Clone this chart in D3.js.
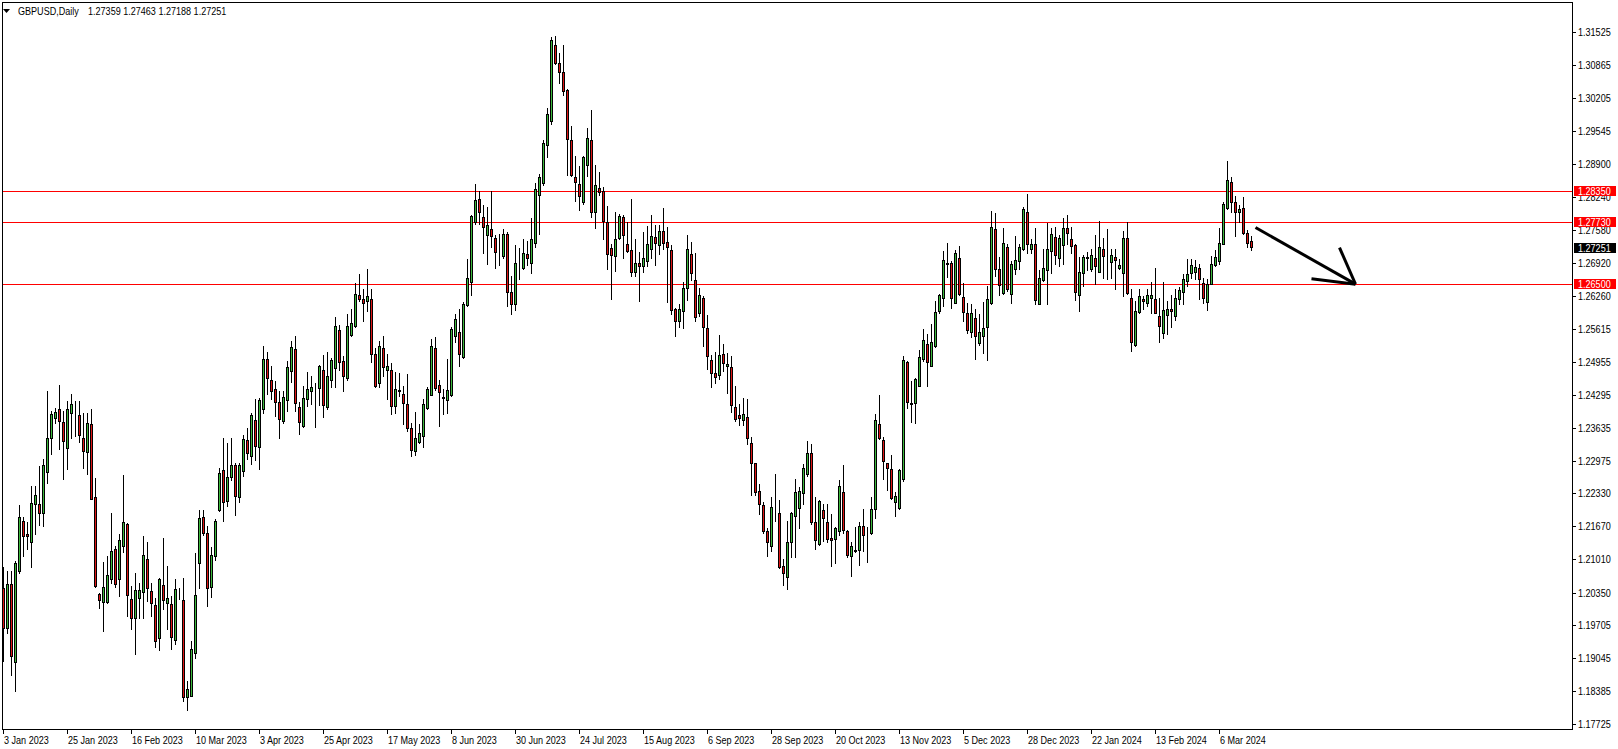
<!DOCTYPE html>
<html><head><meta charset="utf-8">
<script src="https://cdn.jsdelivr.net/npm/d3@7"></script>
<style>html,body{margin:0;padding:0;background:#fff;overflow:hidden}</style>
</head><body><svg id="c" width="1618" height="749"></svg>
<script>
// ---------------- DATA ----------------
const symbolTitle = "GBPUSD,Daily";
const lastQuote = ["1.27359", "1.27463", "1.27188", "1.27251"];
const open = [
1.2045,1.1965,1.2053,1.1897,1.2078,1.2177,1.2151,1.2135,1.2212,1.2211,
1.2193,1.2276,1.2344,1.2383,1.2402,1.2375,1.2324,1.2394,1.2394,1.2389,
1.2344,1.2316,1.2371,1.2225,1.2032,1.2017,1.2016,1.2063,1.2121,1.2063,
1.2128,1.2171,1.2023,1.1985,1.2025,1.2037,1.2102,1.2038,1.2010,1.1945,
1.2050,1.2014,1.2012,1.1941,1.2025,1.2020,1.1826,1.1829,1.1915,1.2093,
1.2185,1.2153,1.2046,1.2108,1.2200,1.2280,1.2218,1.2266,1.2289,1.2225,
1.2278,1.2339,1.2308,1.2379,1.2326,1.2402,1.2500,1.2458,1.2441,1.2416,
1.2377,1.2419,1.2476,1.2520,1.2406,1.2367,1.2422,1.2437,1.2442,1.2442,
1.2479,1.2406,1.2459,1.2482,1.2559,1.2496,1.2463,1.2549,1.2566,1.2629,
1.2621,1.2617,1.2621,1.2510,1.2452,1.2522,1.2479,1.2479,1.2407,1.2439,
1.2431,1.2412,1.2364,1.2318,1.2336,1.2348,1.2404,1.2429,1.2522,1.2449,
1.2426,1.2419,1.2429,1.2547,1.2554,1.2505,1.2608,1.2655,1.2774,1.2819,
1.2783,1.2749,1.2761,1.2742,1.2711,1.2706,1.2750,1.2635,1.2611,1.2691,
1.2682,1.2711,1.2693,1.2733,1.2828,1.2851,1.2928,1.2976,1.3127,1.3092,
1.3074,1.3037,1.2937,1.2863,1.2849,1.2814,1.2888,1.2937,1.2793,1.2841,
1.2836,1.2773,1.2723,1.2707,1.2743,1.2783,1.2731,1.2718,1.2675,1.2693,
1.2687,1.2697,1.2721,1.2745,1.2728,1.2756,1.2735,1.2718,1.2601,1.2576,
1.2596,1.2643,1.2711,1.2659,1.2593,1.2623,1.2562,1.2499,1.2472,1.2469,
1.2510,1.2486,1.2484,1.2406,1.2389,1.2379,1.2386,1.2333,1.2293,1.2237,
1.2209,1.2157,1.2127,1.2201,1.2193,1.2087,1.2067,1.2135,1.2187,1.2203,
1.2233,1.2271,1.2313,1.2175,1.2132,1.2200,1.2175,1.2144,1.2142,1.2158,
1.2235,1.2157,1.2107,1.2117,1.2120,1.2167,1.2152,1.2154,1.2201,1.2371,
1.2340,1.2293,1.2282,1.2216,1.2203,1.2261,1.2494,1.2414,1.2414,1.2447,
1.2500,1.2530,1.2487,1.2527,1.2597,1.2623,1.2691,1.2693,1.2613,1.2702,
1.2625,1.2593,1.2554,1.2582,1.2532,1.2547,1.2564,1.2612,1.2761,1.2680,
1.2633,1.2725,1.2630,1.2681,1.2697,1.2721,1.2793,1.2721,1.2730,1.2611,
1.2658,1.2679,1.2716,1.2745,1.2703,1.2728,1.2762,1.2740,1.2728,1.2629,
1.2673,1.2703,1.2681,1.2703,1.2675,1.2720,1.2701,1.2695,1.2705,1.2682,
1.2673,1.2743,1.2623,1.2528,1.2595,1.2621,1.2613,1.2622,1.2620,1.2586,
1.2552,1.2589,1.2600,1.2587,1.2621,1.2635,1.2657,1.2673,1.2675,1.2683,
1.2653,1.2615,1.2651,1.2689,1.2696,1.2731,1.2801,1.2853,1.2813,1.2794,
1.2801,1.2753,1.27359];
const high = [
1.2085,1.2078,1.2078,1.2098,1.2209,1.2185,1.2175,1.2248,1.2248,1.2288,
1.2301,1.2436,1.2397,1.2404,1.2449,1.2397,1.2417,1.2431,1.2417,1.2417,
1.2394,1.2394,1.2401,1.2264,1.2035,1.2096,1.2108,1.2193,1.2128,1.2151,
1.2269,1.2173,1.2048,1.2074,1.2055,1.2148,1.2135,1.2055,1.2025,1.2065,
1.2143,1.2088,1.2028,1.2062,1.2045,1.2065,1.1858,1.1939,1.2114,1.2200,
1.2200,1.2168,1.2126,1.2181,1.2284,1.2343,1.2334,1.2343,1.2294,1.2293,
1.2349,1.2363,1.2394,1.2422,1.2424,1.2526,1.2515,1.2487,1.2457,1.2437,
1.2437,1.2497,1.2537,1.2546,1.2415,1.2447,1.2474,1.2467,1.2452,1.2488,
1.2508,1.2515,1.2502,1.2584,1.2568,1.2507,1.2590,1.2600,1.2653,1.2670,
1.2640,1.2680,1.2641,1.2522,1.2537,1.2546,1.2510,1.2492,1.2474,1.2472,
1.2447,1.2470,1.2374,1.2396,1.2371,1.2421,1.2444,1.2540,1.2544,1.2459,
1.2441,1.2500,1.2564,1.2590,1.2600,1.2615,1.2700,1.2788,1.2849,1.2836,
1.2807,1.2803,1.2836,1.2748,1.2750,1.2760,1.2754,1.2667,1.2728,1.2723,
1.2740,1.2736,1.2781,1.2851,1.2869,1.2937,1.3001,1.3142,1.3145,1.3111,
1.3127,1.3040,1.2966,1.2906,1.2886,1.2906,1.2961,1.2998,1.2887,1.2873,
1.2843,1.2806,1.2730,1.2794,1.2790,1.2788,1.2773,1.2820,1.2740,1.2715,
1.2754,1.2766,1.2788,1.2768,1.2768,1.2801,1.2765,1.2728,1.2603,1.2611,
1.2655,1.2748,1.2735,1.2713,1.2643,1.2627,1.2588,1.2509,1.2514,1.2548,
1.2530,1.2512,1.2506,1.2446,1.2411,1.2424,1.2422,1.2346,1.2294,1.2251,
1.2215,1.2163,1.2225,1.2271,1.2219,1.2102,1.2178,1.2195,1.2261,1.2245,
1.2291,1.2338,1.2331,1.2225,1.2219,1.2211,1.2211,1.2191,1.2165,1.2259,
1.2289,1.2160,1.2135,1.2165,1.2176,1.2201,1.2165,1.2225,1.2391,1.2429,
1.2346,1.2294,1.2309,1.2236,1.2281,1.2507,1.2497,1.2457,1.2462,1.2518,
1.2560,1.2550,1.2570,1.2617,1.2630,1.2716,1.2733,1.2697,1.2718,1.2726,
1.2652,1.2613,1.2611,1.2601,1.2591,1.2615,1.2647,1.2795,1.2792,1.2705,
1.2763,1.2730,1.2697,1.2746,1.2730,1.2803,1.2830,1.2740,1.2762,1.2679,
1.2720,1.2772,1.2763,1.2765,1.2748,1.2781,1.2788,1.2765,1.2730,1.2705,
1.2708,1.2714,1.2721,1.2748,1.2776,1.2743,1.2760,1.2721,1.2721,1.2700,
1.2756,1.2773,1.2641,1.2617,1.2640,1.2627,1.2640,1.2655,1.2683,1.2623,
1.2655,1.2617,1.2629,1.2640,1.2645,1.2670,1.2701,1.2700,1.2698,1.2690,
1.2663,1.2660,1.2706,1.2718,1.2763,1.2813,1.2895,1.2863,1.2825,1.2808,
1.2823,1.2758,1.27463];
const low = [
1.1899,1.1955,1.1870,1.1839,1.2075,1.2108,1.2121,1.2086,1.2151,1.2169,
1.2167,1.2254,1.2312,1.2374,1.2322,1.2262,1.2282,1.2344,1.2348,1.2336,
1.2284,1.2271,1.2221,1.2047,1.2004,1.1959,1.2015,1.2055,1.2046,1.2028,
1.2116,1.1989,1.1963,1.1912,1.1985,1.1985,1.2018,1.1989,1.1927,1.1921,
1.2002,1.1962,1.1923,1.1932,1.2022,1.1819,1.1801,1.1828,1.1905,1.2044,
1.2150,1.2008,1.2027,1.2100,1.2198,1.2178,1.2208,1.2260,1.2190,1.2216,
1.2268,1.2301,1.2292,1.2300,1.2281,1.2394,1.2431,1.2422,1.2387,1.2344,
1.2374,1.2397,1.2455,1.2397,1.2352,1.2366,1.2407,1.2411,1.2365,1.2409,
1.2385,1.2402,1.2444,1.2444,1.2478,1.2436,1.2459,1.2547,1.2564,1.2617,
1.2577,1.2597,1.2495,1.2444,1.2445,1.2467,1.2422,1.2391,1.2394,1.2427,
1.2371,1.2357,1.2307,1.2310,1.2334,1.2326,1.2401,1.2429,1.2439,1.2367,
1.2392,1.2394,1.2427,1.2534,1.2487,1.2503,1.2607,1.2629,1.2770,1.2771,
1.2713,1.2691,1.2725,1.2683,1.2688,1.2703,1.2607,1.2591,1.2599,1.2660,
1.2680,1.2688,1.2673,1.2724,1.2750,1.2847,1.2904,1.2970,1.3089,1.3051,
1.3027,1.2868,1.2866,1.2816,1.2798,1.2810,1.2866,1.2783,1.2762,1.2828,
1.2740,1.2680,1.2621,1.2677,1.2740,1.2703,1.2714,1.2667,1.2667,1.2617,
1.2675,1.2687,1.2703,1.2689,1.2711,1.2720,1.2615,1.2590,1.2547,1.2565,
1.2562,1.2619,1.2658,1.2577,1.2587,1.2527,1.2481,1.2445,1.2452,1.2461,
1.2477,1.2433,1.2395,1.2377,1.2369,1.2369,1.2331,1.2230,1.2230,1.2191,
1.2154,1.2108,1.2118,1.2178,1.2084,1.2050,1.2043,1.2105,1.2105,1.2163,
1.2211,1.2268,1.2171,1.2122,1.2130,1.2138,1.2136,1.2088,1.2094,1.2150,
1.2153,1.2105,1.2068,1.2115,1.2090,1.2118,1.2095,1.2152,1.2183,1.2342,
1.2262,1.2240,1.2221,1.2187,1.2201,1.2258,1.2404,1.2376,1.2374,1.2446,
1.2497,1.2447,1.2486,1.2524,1.2592,1.2607,1.2665,1.2603,1.2612,1.2628,
1.2577,1.2552,1.2544,1.2500,1.2529,1.2512,1.2498,1.2610,1.2667,1.2628,
1.2630,1.2637,1.2613,1.2670,1.2680,1.2718,1.2712,1.2712,1.2610,1.2610,
1.2657,1.2610,1.2672,1.2690,1.2687,1.2691,1.2730,1.2713,1.2619,1.2597,
1.2647,1.2679,1.2677,1.2650,1.2675,1.2663,1.2661,1.2663,1.2641,1.2680,
1.2627,1.2630,1.2517,1.2527,1.2593,1.2600,1.2607,1.2593,1.2592,1.2535,
1.2542,1.2550,1.2564,1.2579,1.2611,1.2611,1.2647,1.2663,1.2661,1.2621,
1.2613,1.2599,1.2650,1.2687,1.2690,1.2730,1.2800,1.2794,1.2746,1.2773,
1.2751,1.2724,1.27188];
const close = [
1.1965,1.2053,1.1909,1.2094,1.2185,1.2148,1.2147,1.2213,1.2229,1.2193,
1.2289,1.2344,1.2391,1.2396,1.2377,1.2338,1.2401,1.2411,1.2394,1.2349,
1.2318,1.2373,1.2222,1.2048,1.2020,1.2047,1.2070,1.2117,1.2053,1.2139,
1.2175,1.2030,1.1985,1.2040,1.2040,1.2110,1.2045,1.2015,1.1939,1.2062,
1.2020,1.2025,1.1947,1.2042,1.2025,1.1826,1.1842,1.1922,1.2031,1.2183,
1.2153,1.2045,1.2110,1.2177,1.2274,1.2216,1.2266,1.2289,1.2228,1.2289,
1.2341,1.2314,1.2389,1.2328,1.2419,1.2500,1.2462,1.2437,1.2415,1.2382,
1.2426,1.2484,1.2524,1.2414,1.2375,1.2424,1.2441,1.2444,1.2442,1.2486,
1.2409,1.2467,1.2498,1.2566,1.2495,1.2467,1.2566,1.2572,1.2631,1.2620,
1.2612,1.2626,1.2510,1.2447,1.2527,1.2484,1.2486,1.2407,1.2441,1.2436,
1.2414,1.2364,1.2320,1.2344,1.2354,1.2412,1.2441,1.2526,1.2442,1.2434,
1.2423,1.2439,1.2560,1.2580,1.2510,1.2611,1.2662,1.2785,1.2817,1.2793,
1.2765,1.2768,1.2746,1.2715,1.2711,1.2750,1.2635,1.2611,1.2693,1.2691,
1.2713,1.2703,1.2740,1.2839,1.2863,1.2932,1.2989,1.3137,1.3091,1.3074,
1.3036,1.2940,1.2868,1.2853,1.2825,1.2904,1.2942,1.2794,1.2847,1.2834,
1.2776,1.2711,1.2709,1.2740,1.2785,1.2748,1.2716,1.2675,1.2693,1.2687,
1.2703,1.2731,1.2746,1.2733,1.2756,1.2733,1.2725,1.2599,1.2577,1.2601,
1.2643,1.2721,1.2673,1.2585,1.2629,1.2565,1.2506,1.2472,1.2464,1.2509,
1.2492,1.2490,1.2409,1.2382,1.2383,1.2391,1.2344,1.2294,1.2235,1.2211,
1.2157,1.2135,1.2205,1.2201,1.2085,1.2075,1.2135,1.2193,1.2235,1.2237,
1.2284,1.2313,1.2175,1.2140,1.2217,1.2183,1.2142,1.2140,1.2163,1.2247,
1.2160,1.2110,1.2127,1.2120,1.2167,1.2150,1.2152,1.2201,1.2379,1.2344,
1.2298,1.2284,1.2223,1.2227,1.2279,1.2498,1.2415,1.2412,1.2461,1.2504,
1.2538,1.2494,1.2534,1.2595,1.2628,1.2698,1.2693,1.2623,1.2712,1.2631,
1.2595,1.2559,1.2593,1.2547,1.2555,1.2562,1.2620,1.2765,1.2680,1.2648,
1.2733,1.2640,1.2691,1.2698,1.2725,1.2800,1.2731,1.2731,1.2619,1.2663,
1.2683,1.2720,1.2750,1.2708,1.2743,1.2763,1.2753,1.2726,1.2635,1.2675,
1.2705,1.2705,1.2708,1.2687,1.2725,1.2706,1.2701,1.2708,1.2698,1.2688,
1.2743,1.2632,1.2535,1.2597,1.2627,1.2617,1.2628,1.2628,1.2593,1.2566,
1.2599,1.2600,1.2597,1.2623,1.2638,1.2661,1.2670,1.2688,1.2685,1.2661,
1.2623,1.2651,1.2691,1.2705,1.2733,1.2810,1.2857,1.2813,1.2793,1.2800,
1.2753,1.2732,1.27251];
const dateLabels = ["3 Jan 2023","25 Jan 2023","16 Feb 2023","10 Mar 2023","3 Apr 2023","25 Apr 2023",
  "17 May 2023","8 Jun 2023","30 Jun 2023","24 Jul 2023","15 Aug 2023","6 Sep 2023","28 Sep 2023",
  "20 Oct 2023","13 Nov 2023","5 Dec 2023","28 Dec 2023","22 Jan 2024","13 Feb 2024","6 Mar 2024"];
const dateLabelStep = 16;
const priceTicks = [1.31525,1.30865,1.30205,1.29545,1.28900,1.28240,1.27580,1.26920,1.26260,1.25615,
  1.24955,1.24295,1.23635,1.22975,1.22330,1.21670,1.21010,1.20350,1.19705,1.19045,1.18385,1.17725];
const levels = [1.28350, 1.27730, 1.26500];
const levelLabels = ["1.28350", "1.27730", "1.26500"];
const bidPrice = 1.27251;
const bidLabel = "1.27251";
// arrow annotation (bar index, price)
const arrowBars = [313, 338];
const arrowPrices = [1.2763, 1.2650];
const arrowHeadBars = [334, 327];
const arrowHeadPrices = [1.2723, 1.2661];

// ---------------- DRAW ----------------
const svg = d3.select('#c');
const F = "'Liberation Sans Narrow','Liberation Sans',Arial,sans-serif";
const frame = {left: 2.5, right: 1572.5, top: 2.5, bottom: 729.5};
const n = open.length;
const x = d3.scaleLinear().domain([0, n - 1]).range([3.5, 3.5 + 4 * (n - 1)]);
const y = d3.scaleLinear().domain([d3.min(priceTicks), d3.max(priceTicks)]).range([724.2, 32.2]);
const py = v => Math.round(y(v)) + 0.5;
const GREEN = '#3cb83c', RED = '#dd1515';

svg.append('rect').attr('width', 1618).attr('height', 749).attr('fill', '#fff');

// levels
svg.append('g').attr('shape-rendering', 'crispEdges').selectAll('line').data(levels).join('line')
  .attr('x1', frame.left).attr('x2', frame.right).attr('y1', py).attr('y2', py)
  .attr('stroke', '#ff0000').attr('stroke-width', 1);

// candles
const idx = d3.range(n);
const cg = svg.append('g').attr('shape-rendering', 'crispEdges');
cg.selectAll('line').data(idx).join('line')
  .attr('x1', i => x(i)).attr('x2', i => x(i))
  .attr('y1', i => Math.round(y(high[i])))
  .attr('y2', i => Math.round(y(low[i])) + 1)
  .attr('stroke', '#000').attr('stroke-width', 1);
cg.selectAll('rect').data(idx).join('rect')
  .attr('x', i => x(i) - 1).attr('width', 2)
  .attr('y', i => py(Math.max(open[i], close[i])))
  .attr('height', i => py(Math.min(open[i], close[i])) - py(Math.max(open[i], close[i])))
  .attr('fill', i => close[i] >= open[i] ? GREEN : RED)
  .attr('stroke', '#000').attr('stroke-width', 1);

// arrow
const ag = svg.append('g').attr('stroke', '#000').attr('stroke-width', 3).attr('stroke-linecap', 'butt');
ag.append('line').attr('x1', x(arrowBars[0])).attr('y1', y(arrowPrices[0]))
  .attr('x2', x(arrowBars[1])).attr('y2', y(arrowPrices[1]));
arrowHeadBars.forEach((b, j) => {
  ag.append('line').attr('x1', x(b)).attr('y1', y(arrowHeadPrices[j]))
    .attr('x2', x(arrowBars[1])).attr('y2', y(arrowPrices[1]));
});

// frame
svg.append('rect').attr('x', frame.left).attr('y', frame.top)
  .attr('width', frame.right - frame.left).attr('height', frame.bottom - frame.top)
  .attr('fill', 'none').attr('stroke', '#000').attr('shape-rendering', 'crispEdges');

// measure text ratio to mimic narrow Tahoma metrics
const probe = svg.append('text').attr('font-family', F).attr('font-size', 10.5).text('1.31525');
const ratio = 32.7 / probe.node().getComputedTextLength();
probe.remove();
function fit(sel) {
  sel.each(function () {
    const L = this.getComputedTextLength();
    d3.select(this).attr('textLength', L * ratio).attr('lengthAdjust', 'spacingAndGlyphs');
  });
}

// price axis
const pg = svg.append('g').attr('shape-rendering', 'crispEdges');
pg.selectAll('line').data(priceTicks).join('line')
  .attr('x1', frame.right).attr('x2', frame.right + 3.5).attr('y1', py).attr('y2', py).attr('stroke', '#000');
const pt = svg.append('g').selectAll('text').data(priceTicks).join('text')
  .attr('x', 1578).attr('y', d => Math.round(y(d)) + 4)
  .attr('font-family', F).attr('font-size', 10.5).attr('fill', '#000')
  .text(d => d.toFixed(5));
fit(pt);

// date axis
const dateIdx = dateLabels.map((d, j) => j * dateLabelStep);
svg.append('g').attr('shape-rendering', 'crispEdges').selectAll('line').data(dateIdx).join('line')
  .attr('x1', d => x(d)).attr('x2', d => x(d)).attr('y1', frame.bottom).attr('y2', frame.bottom + 4.5).attr('stroke', '#000');
const dt = svg.append('g').selectAll('text').data(dateLabels).join('text')
  .attr('x', (d, j) => x(dateIdx[j]) + 0.5).attr('y', 744)
  .attr('font-family', F).attr('font-size', 10.5).attr('fill', '#000').text(d => d);
fit(dt);

// level tags
const tg = svg.append('g');
levels.forEach((v, j) => {
  const cy = Math.round(y(v));
  tg.append('rect').attr('x', 1574).attr('y', cy - 5).attr('width', 42).attr('height', 10).attr('fill', '#ff0000');
  fit(tg.append('text').attr('x', 1578).attr('y', cy + 4).attr('font-family', F).attr('font-size', 10.5)
    .attr('fill', '#fff').text(levelLabels[j]));
});
{
  const cy = Math.round(y(bidPrice)) + 1;
  tg.append('rect').attr('x', 1574).attr('y', cy - 5).attr('width', 42).attr('height', 10).attr('fill', '#000');
  fit(tg.append('text').attr('x', 1578).attr('y', cy + 4).attr('font-family', F).attr('font-size', 10.5)
    .attr('fill', '#fff').text(bidLabel));
}

// header
svg.append('path').attr('d', 'M3,9L10,9L6.5,13Z').attr('fill', '#000');
fit(svg.append('text').attr('x', 18).attr('y', 15).attr('font-family', F).attr('font-size', 10.5).text(symbolTitle));
fit(svg.append('text').attr('x', 88).attr('y', 15).attr('font-family', F).attr('font-size', 10.5).text(lastQuote.join(' ')));
</script></body></html>
